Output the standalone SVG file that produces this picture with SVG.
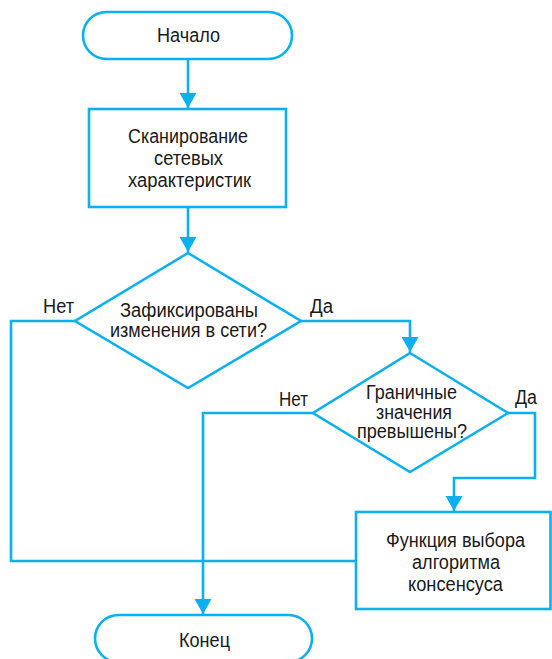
<svg xmlns="http://www.w3.org/2000/svg" width="552" height="659" viewBox="0 0 552 659">
<defs>
<style>
.s{fill:#fff;stroke:#0AB1EE;stroke-width:2.6}
.c{fill:none;stroke:#0AB1EE;stroke-width:2.6}
text{font-family:"Liberation Sans",Arial,sans-serif;font-size:20px;fill:#1a1a1a;text-anchor:middle}
</style>
<marker id="ah" markerUnits="userSpaceOnUse" markerWidth="16" markerHeight="18" refX="15" refY="8.5" orient="auto">
<path d="M0,0 L15,8.5 L0,17 z" fill="#0AB1EE"/>
</marker>
</defs>
<rect width="552" height="659" fill="#fff"/>
<g id="connectors">
<path class="c" d="M188,59 V108" marker-end="url(#ah)"/>
<path class="c" d="M188,207 V252" marker-end="url(#ah)"/>
<path class="c" d="M301,321 H410 V352" marker-end="url(#ah)"/>
<path class="c" d="M75,321 H11 V561 H356"/>
<path class="c" d="M313,413 H203 V614" marker-end="url(#ah)"/>
<path class="c" d="M508,413 H535 V478 H454 V511" marker-end="url(#ah)"/>
<text x="58.5" y="313" textLength="31" lengthAdjust="spacingAndGlyphs">Нет</text>
<text x="321.5" y="313" textLength="23" lengthAdjust="spacingAndGlyphs">Да</text>
<text x="293.5" y="406" textLength="29" lengthAdjust="spacingAndGlyphs">Нет</text>
<text x="526" y="404" textLength="22" lengthAdjust="spacingAndGlyphs">Да</text>
</g>
<g id="start">
<rect class="s" x="83" y="12" width="209" height="47" rx="23.5"/>
<text x="188.5" y="42" textLength="63" lengthAdjust="spacingAndGlyphs">Начало</text>
</g>
<g id="scan">
<rect class="s" x="89" y="109" width="197" height="98"/>
<text x="188" y="143" textLength="120" lengthAdjust="spacingAndGlyphs">Сканирование</text>
<text x="188.5" y="165" textLength="69" lengthAdjust="spacingAndGlyphs">сетевых</text>
<text x="189.5" y="187" textLength="123" lengthAdjust="spacingAndGlyphs">характеристик</text>
</g>
<g id="decision1">
<polygon class="s" points="188,253 301,321 188,388 75,321"/>
<text x="189" y="317" textLength="138" lengthAdjust="spacingAndGlyphs">Зафиксированы</text>
<text x="188.5" y="337" textLength="157" lengthAdjust="spacingAndGlyphs">изменения в сети?</text>
</g>
<g id="decision2">
<polygon class="s" points="410,353 508,413 410,472 313,413"/>
<text x="411.5" y="399" textLength="91" lengthAdjust="spacingAndGlyphs">Граничные</text>
<text x="414" y="419" textLength="76" lengthAdjust="spacingAndGlyphs">значения</text>
<text x="412" y="438" textLength="110" lengthAdjust="spacingAndGlyphs">превышены?</text>
</g>
<g id="consensus">
<rect class="s" x="356" y="512" width="194.5" height="97"/>
<text x="455.5" y="547" textLength="139" lengthAdjust="spacingAndGlyphs">Функция выбора</text>
<text x="456" y="569" textLength="88" lengthAdjust="spacingAndGlyphs">алгоритма</text>
<text x="455.5" y="591" textLength="95" lengthAdjust="spacingAndGlyphs">консенсуса</text>
</g>
<g id="end">
<rect class="s" x="95" y="615" width="217" height="47" rx="23.5"/>
<text x="204.5" y="647" textLength="51" lengthAdjust="spacingAndGlyphs">Конец</text>
</g>
</svg>
